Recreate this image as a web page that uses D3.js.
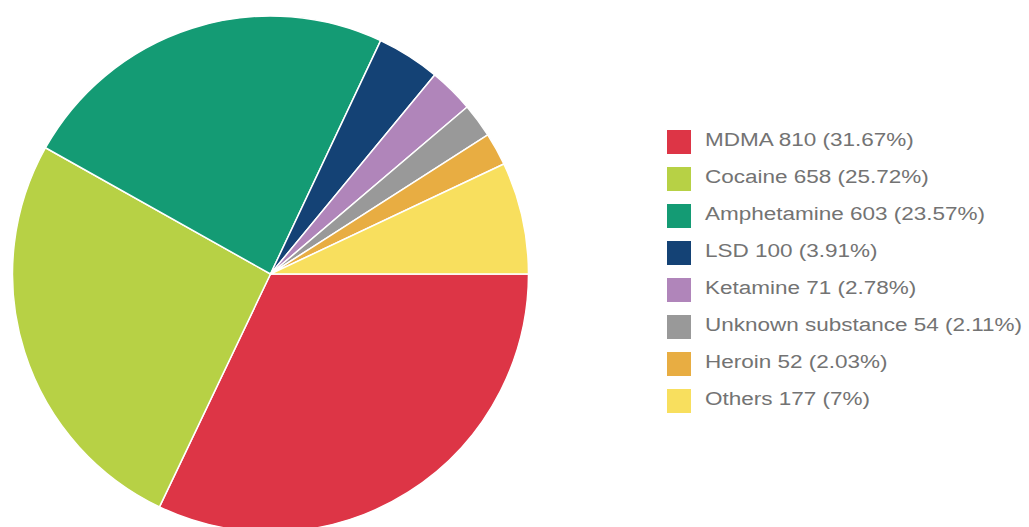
<!DOCTYPE html>
<html>
<head>
<meta charset="utf-8">
<script src="https://cdn.jsdelivr.net/npm/d3@7"></script>
<style>
  html, body { margin: 0; padding: 0; background: #fff; }
  svg { display: block; }
</style>
</head>
<body>
<svg id="chart" width="1029" height="527"></svg>
<script>
const categories = ["MDMA", "Cocaine", "Amphetamine", "LSD", "Ketamine", "Unknown substance", "Heroin", "Others"];
const values = [810, 658, 603, 100, 71, 54, 52, 177];
const percentLabels = ["31.67%", "25.72%", "23.57%", "3.91%", "2.78%", "2.11%", "2.03%", "7%"];
const colors = ["#dd3546", "#b7d145", "#149b74", "#144275", "#b085ba", "#999999", "#e8ad42", "#f8df5e"];

const svg = d3.select("#chart");
const cx = 270.5, cy = 274, radius = 258;

const data = categories.map((c, i) => ({ name: c, value: values[i], pct: percentLabels[i], color: colors[i] }));

const pie = d3.pie().value(d => d.value).sort(null)
  .startAngle(Math.PI / 2).endAngle(Math.PI / 2 + 2 * Math.PI);
const arc = d3.arc().innerRadius(0).outerRadius(radius);

svg.append("g").attr("transform", `translate(${cx},${cy})`)
  .selectAll("path").data(pie(data)).join("path")
  .attr("d", arc)
  .attr("fill", d => d.data.color)
  .attr("stroke", "#fff")
  .attr("stroke-width", 1.5)
  .attr("stroke-linejoin", "round");

const legendY = d3.scaleBand().domain(categories).range([130, 426]).paddingInner(0);
const legend = svg.append("g");
const rows = legend.selectAll("g").data(data).join("g")
  .attr("transform", d => `translate(667,${legendY(d.name)})`);
rows.append("rect").attr("width", 24).attr("height", 24).attr("fill", d => d.color);
rows.append("text")
  .attr("transform", "translate(38,16) scale(1.25,1)")
  .attr("font-family", "'Liberation Sans', Arial, Helvetica, sans-serif")
  .attr("font-size", 18)
  .attr("fill", "#737373")
  .text(d => `${d.name} ${d.value} (${d.pct})`);
</script>
</body>
</html>
